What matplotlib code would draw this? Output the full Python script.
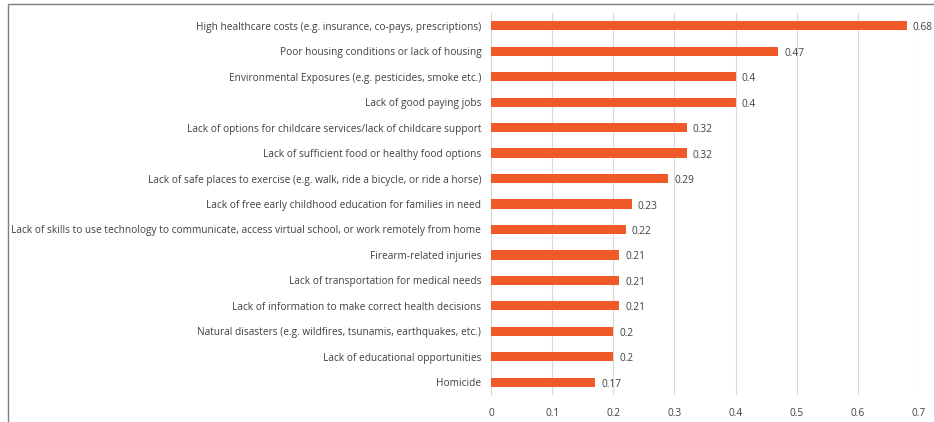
import matplotlib
matplotlib.use("Agg")
from matplotlib import pyplot as plt
from matplotlib.patches import Rectangle

categories = [
    "High healthcare costs (e.g. insurance, co-pays, prescriptions)",
    "Poor housing conditions or lack of housing",
    "Environmental Exposures (e.g. pesticides, smoke etc.)",
    "Lack of good paying jobs",
    "Lack of options for childcare services/lack of childcare support",
    "Lack of sufficient food or healthy food options",
    "Lack of safe places to exercise (e.g. walk, ride a bicycle, or ride a horse)",
    "Lack of free early childhood education for families in need",
    "Lack of skills to use technology to communicate, access virtual school, or work remotely from home",
    "Firearm-related injuries",
    "Lack of transportation for medical needs",
    "Lack of information to make correct health decisions",
    "Natural disasters (e.g. wildfires, tsunamis, earthquakes, etc.)",
    "Lack of educational opportunities",
    "Homicide",
]
values = [0.68, 0.47, 0.4, 0.4, 0.32, 0.32, 0.29, 0.23, 0.22, 0.21, 0.21, 0.21, 0.2, 0.2, 0.17]
xticks = [0, 0.1, 0.2, 0.3, 0.4, 0.5, 0.6, 0.7]

plt.rcParams['font.family'] = ['Open Sans', 'DejaVu Sans']
text_col = '#404040'
bar_col = '#F05A28'

fig = plt.figure(figsize=(9.34, 4.22), dpi=100)
ax = fig.add_axes([491/934, 1-395/422, (919-491)/934, (395-13)/422])

y = list(range(len(categories)))
ax.barh(y, values, height=0.36, color=bar_col, zorder=3)
for yi, v in zip(y, values):
    ax.text(v + 0.01, yi + 0.08, f"{v:g}", va='center', ha='left', fontsize=7.3, color=text_col)

ax.set_ylim(len(categories) - 0.5, -0.5)
ax.set_xlim(0, 0.7)
ax.set_yticks(y)
ax.set_yticklabels(categories, fontsize=7.3, color=text_col)
ax.set_xticks(xticks)
ax.set_xticklabels([f"{t:g}" for t in xticks], fontsize=7.3, color=text_col)
ax.tick_params(axis='both', length=0)
ax.tick_params(axis='y', pad=7)
ax.tick_params(axis='x', pad=9)
ax.grid(axis='x', color='#d9d9d9', linewidth=0.8, zorder=0)
for s in ['top', 'right', 'bottom']:
    ax.spines[s].set_visible(False)
ax.spines['left'].set_color('#d9d9d9')
ax.spines['left'].set_linewidth(0.8)

# outer chart frame (partly cropped)
fig.patches.append(Rectangle((8/934, -0.1), 1.1, 1.1 - 4/422, transform=fig.transFigure,
                             fill=False, edgecolor='#7f7f7f', linewidth=1.0))

fig.savefig('out.png', dpi=100)
